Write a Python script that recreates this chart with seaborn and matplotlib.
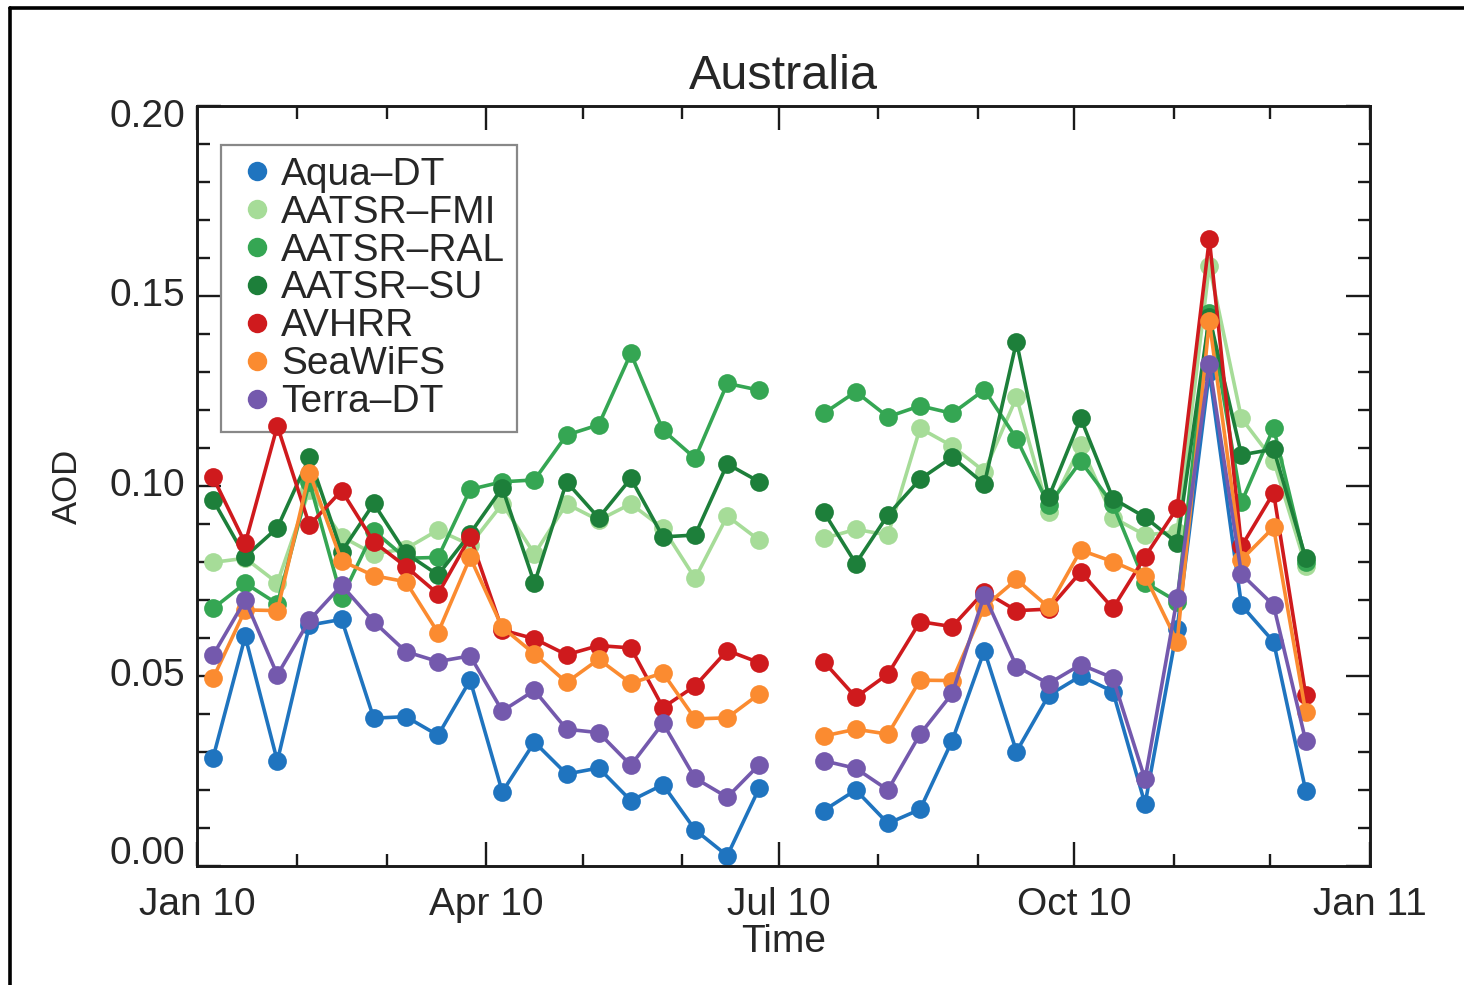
import numpy as np
import pandas as pd
import matplotlib
matplotlib.use("Agg")
import matplotlib.pyplot as plt
import matplotlib.dates as mdates
from matplotlib.ticker import MultipleLocator, NullFormatter
from matplotlib.lines import Line2D
from matplotlib.transforms import ScaledTranslation
import seaborn as sns

# 10-day composites over Australia, 2010 (early July composite missing)
dates = [
    "2010-01-06", "2010-01-16", "2010-01-26", "2010-02-05", "2010-02-15", "2010-02-25",
    "2010-03-07", "2010-03-17", "2010-03-27", "2010-04-06", "2010-04-16", "2010-04-26",
    "2010-05-06", "2010-05-16", "2010-05-26", "2010-06-05", "2010-06-15", "2010-06-25",
    "2010-07-05",
    "2010-07-15", "2010-07-25", "2010-08-04", "2010-08-14", "2010-08-24", "2010-09-03",
    "2010-09-13", "2010-09-23", "2010-10-03", "2010-10-13", "2010-10-23", "2010-11-02",
    "2010-11-12", "2010-11-22", "2010-12-02", "2010-12-12",
]

products = ["Aqua–DT", "AATSR–FMI", "AATSR–RAL", "AATSR–SU", "AVHRR", "SeaWiFS", "Terra–DT"]
colors = ["#1f74bf", "#a6dc98", "#35a653", "#1d7f3a", "#cf1a1d", "#fb8b30", "#7459ad"]

nan = np.nan
aqua_dt = [0.0285, 0.0604, 0.0276, 0.0634, 0.0649, 0.0389, 0.0393, 0.0344, 0.0489, 0.0195,
           0.0326, 0.0242, 0.0258, 0.0172, 0.0214, 0.0095, 0.0027, 0.0206,
           nan,
           0.0146, 0.0200, 0.0112, 0.0149, 0.0330, 0.0567, 0.0301, 0.0449, 0.0500, 0.0459,
           0.0163, 0.0625, 0.1300, 0.0686, 0.0590, 0.0198]
aatsr_fmi = [0.0799, 0.0810, 0.0745, 0.0990, 0.0867, 0.0821, 0.0835, 0.0884, 0.0845, 0.0953,
             0.0821, 0.0953, 0.0910, 0.0953, 0.0889, 0.0757, 0.0921, 0.0857,
             nan,
             0.0862, 0.0886, 0.0871, 0.1152, 0.1105, 0.1038, 0.1233, 0.0932, 0.1107, 0.0917,
             0.0871, 0.0880, 0.1580, 0.1178, 0.1067, 0.0790]
aatsr_ral = [0.0678, 0.0744, 0.0690, 0.1010, 0.0705, 0.0882, 0.0810, 0.0812, 0.0991, 0.1011,
             0.1016, 0.1134, 0.1161, 0.1349, 0.1147, 0.1073, 0.1270, 0.1252,
             nan,
             0.1191, 0.1248, 0.1182, 0.1211, 0.1191, 0.1253, 0.1125, 0.0950, 0.1065, 0.0952,
             0.0746, 0.0696, 0.1454, 0.0957, 0.1153, 0.0800]
aatsr_su = [0.0963, 0.0814, 0.0890, 0.1076, 0.0827, 0.0954, 0.0823, 0.0766, 0.0875, 0.0995,
            0.0744, 0.1011, 0.0916, 0.1020, 0.0866, 0.0871, 0.1058, 0.1011,
            nan,
            0.0932, 0.0796, 0.0924, 0.1018, 0.1076, 0.1005, 0.1380, 0.0970, 0.1178, 0.0967,
            0.0918, 0.0850, 0.1445, 0.1082, 0.1097, 0.0811]
avhrr = [0.1023, 0.0849, 0.1158, 0.0897, 0.0988, 0.0853, 0.0788, 0.0716, 0.0866, 0.0621,
         0.0598, 0.0556, 0.0580, 0.0574, 0.0417, 0.0474, 0.0567, 0.0535,
         nan,
         0.0538, 0.0444, 0.0505, 0.0643, 0.0630, 0.0722, 0.0672, 0.0676, 0.0774, 0.0678,
         0.0814, 0.0942, 0.1650, 0.0841, 0.0982, 0.0449]
seawifs = [0.0494, 0.0674, 0.0672, 0.1035, 0.0803, 0.0764, 0.0748, 0.0614, 0.0812, 0.0628,
           0.0558, 0.0483, 0.0544, 0.0481, 0.0508, 0.0387, 0.0390, 0.0453,
           nan,
           0.0342, 0.0360, 0.0347, 0.0489, 0.0488, 0.0682, 0.0754, 0.0681, 0.0831, 0.0801,
           0.0764, 0.0590, 0.1434, 0.0806, 0.0891, 0.0404]
terra_dt = [0.0555, 0.0700, 0.0503, 0.0647, 0.0739, 0.0643, 0.0564, 0.0538, 0.0553, 0.0408,
            0.0462, 0.0360, 0.0351, 0.0265, 0.0376, 0.0231, 0.0181, 0.0267,
            nan,
            0.0277, 0.0257, 0.0200, 0.0347, 0.0454, 0.0713, 0.0525, 0.0480, 0.0530, 0.0495,
            0.0228, 0.0705, 0.1320, 0.0768, 0.0686, 0.0329]

series = [aqua_dt, aatsr_fmi, aatsr_ral, aatsr_su, avhrr, seawifs, terra_dt]

ytick_values = [0.00, 0.05, 0.10, 0.15, 0.20]
ytick_labels = ["0.00", "0.05", "0.10", "0.15", "0.20"]
xtick_dates = ["2010-01-01", "2010-04-01", "2010-07-01", "2010-10-01", "2011-01-01"]
xtick_labels = ["Jan 10", "Apr 10", "Jul 10", "Oct 10", "Jan 11"]

# Long table; a new segment starts after each missing composite so lines break there
frames = []
for name, vals in zip(products, series):
    d = pd.DataFrame({"date": pd.to_datetime(dates), "aod": vals, "product": name})
    d["segment"] = d["aod"].isna().cumsum()
    frames.append(d.dropna())
df = pd.concat(frames, ignore_index=True)

sns.set_theme(style="ticks")
plt.rcParams["font.family"] = ["Liberation Sans", "DejaVu Sans"]

fig = plt.figure(figsize=(14.64, 9.85), dpi=100)
ax = fig.add_axes([197 / 1464, 1 - 866 / 985, (1370 - 197) / 1464, (866 - 106) / 985])

sns.lineplot(
    data=df, x="date", y="aod", hue="product", hue_order=products,
    palette=dict(zip(products, colors)), units="segment", estimator=None,
    marker="o", markersize=13.5, markeredgewidth=0, linewidth=2.6,
    legend=False, ax=ax,
)

ax.set_xlim(pd.Timestamp(xtick_dates[0]), pd.Timestamp(xtick_dates[-1]))
ax.set_ylim(ytick_values[0], ytick_values[-1])

ax.set_xticks(pd.to_datetime(xtick_dates))
ax.set_xticklabels(xtick_labels, fontsize=28)
ax.xaxis.set_minor_locator(mdates.MonthLocator())
ax.xaxis.set_minor_formatter(NullFormatter())

ax.set_yticks(ytick_values)
ax.set_yticklabels([])
ax.yaxis.set_minor_locator(MultipleLocator(0.01))

ax.tick_params(which="both", direction="in", top=True, right=True, color="#1a1a1a")
ax.tick_params(which="major", length=17, width=1.7)
ax.tick_params(which="minor", length=9, width=1.7)
ax.tick_params(axis="x", which="major", pad=15)

for sp in ax.spines.values():
    sp.set_linewidth(2.1)
    sp.set_color("#1a1a1a")

# Y tick labels, with the end labels pulled inside the axis range
ytrans = ax.get_yaxis_transform()
for v, lab in zip(ytick_values, ytick_labels):
    dy = 0.0
    if v == ytick_values[-1]:
        dy = -11 / 100
    elif v == ytick_values[0]:
        dy = 12 / 100
    tr = ytrans + ScaledTranslation(-12 / 100, dy, fig.dpi_scale_trans)
    ax.text(0, v, lab, transform=tr, ha="right", va="center", fontsize=28)

ax.set_title("Australia", fontsize=35, pad=12)
ax.set_xlabel("Time", fontsize=28, labelpad=1)
ax.set_ylabel("AOD", fontsize=25, labelpad=78)

handles = [Line2D([], [], marker="o", linestyle="", color=c, markersize=14, markeredgewidth=0)
           for c in colors]
leg = ax.legend(handles, products, loc="upper left", bbox_to_anchor=(0.0205, 0.9487),
                borderaxespad=0, fontsize=28, handlelength=1.25, handletextpad=0.0,
                labelspacing=0.05, borderpad=0.3, frameon=True, fancybox=False,
                framealpha=1.0)
leg.get_frame().set_edgecolor("#888888")
leg.get_frame().set_linewidth(1.6)
# keep the data markers above the legend box
leg.set_zorder(1)

# Outer frame around the figure
fig.add_artist(Line2D([10 / 1464, 10 / 1464], [0, 1 - 8 / 985], transform=fig.transFigure,
                      color="black", linewidth=2.6))
fig.add_artist(Line2D([10 / 1464, 1], [1 - 8 / 985, 1 - 8 / 985], transform=fig.transFigure,
                      color="black", linewidth=2.6))

fig.savefig("out.png", dpi=100)
